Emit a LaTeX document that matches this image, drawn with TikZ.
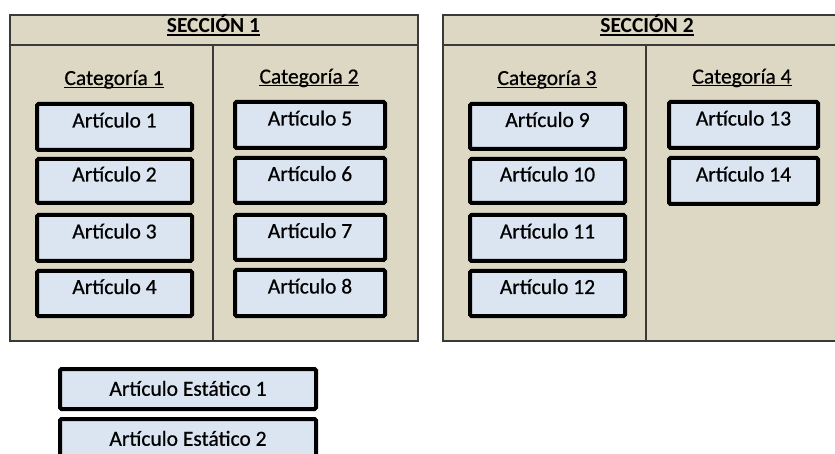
\documentclass[tikz,border=0pt]{standalone}
\usepackage{fontspec}
\setmainfont{Carlito}
\newfontfamily\heavyfont{Carlito}[FakeBold=0.6]
\definecolor{sectan}{HTML}{DDD8C3}
\definecolor{itemblue}{HTML}{DBE5F1}
\definecolor{framegray}{HTML}{3A3A3A}
\newcommand\ulin[2]{\setbox0\hbox{#2}\rlap{\rule[-2.6pt]{\wd0}{#1}}\box0}
\begin{document}
\begin{tikzpicture}[x=1pt,y=-1pt,
  secframe/.style={draw=framegray,line width=1.5pt},
  headtxt/.style={anchor=base,inner sep=0pt,font=\fontsize{21.5}{25}\selectfont\bfseries},
  cattxt/.style={anchor=base,inner sep=0pt,font=\fontsize{21.5}{25}\selectfont\heavyfont},
  itembox/.style={draw=black,line width=4pt,fill=itemblue,rounded corners=1.5pt,
    inner sep=0pt,text height=12pt,text depth=11pt,font=\fontsize{21.5}{25}\selectfont\heavyfont},
  staticbox/.style={draw=black,line width=4pt,fill=itemblue,rounded corners=1.5pt,
    inner sep=0pt,text height=13.5pt,text depth=0pt,minimum width=256pt,minimum height=40pt,
    font=\fontsize{21.5}{25}\selectfont\heavyfont}]
\useasboundingbox (0,0) rectangle (835,454);
\clip (0,0) rectangle (835,454);
\fill[white] (0,0) rectangle (835,454);
% Section 1
\fill[sectan] (10,15) rectangle (418,341);
\draw[secframe] (10,15) rectangle (418,341);
\draw[secframe] (10,45) -- (418,45);
\draw[secframe] (213,45) -- (213,341);
% Section 2
\fill[sectan] (443,15) rectangle (852,341);
\draw[secframe] (443,15) rectangle (852,341);
\draw[secframe] (443,45) -- (852,45);
\draw[secframe] (646,45) -- (646,341);
% headers
\node[headtxt] (s1) at (213.5,33) {\ulin{1.2pt}{SECCIÓN 1}};
\node[headtxt] (s2) at (647,33) {\ulin{1.2pt}{SECCIÓN 2}};
\node[cattxt] (c1) at (114,85) {\ulin{1pt}{Categoría 1}};
\node[cattxt] (c2) at (309,83.5) {\ulin{1pt}{Categoría 2}};
\node[cattxt] (c3) at (547,85) {\ulin{1pt}{Categoría 3}};
\node[cattxt] (c4) at (742,83.5) {\ulin{1pt}{Categoría 4}};
% column 1
\node[itembox,minimum width=155pt,minimum height=46pt] (a1) at (114.5,127) {Artículo 1};
\node[itembox,minimum width=155pt,minimum height=44pt] (a2) at (114.5,181) {Artículo 2};
\node[itembox,minimum width=155pt,minimum height=46pt] (a3) at (114.5,238) {Artículo 3};
\node[itembox,minimum width=155pt,minimum height=45pt] (a4) at (114.5,293.5) {Artículo 4};
% column 2
\node[itembox,minimum width=150pt,minimum height=46pt] (a5) at (310,125) {Artículo 5};
\node[itembox,minimum width=150pt,minimum height=45pt] (a6) at (310,180.5) {Artículo 6};
\node[itembox,minimum width=150pt,minimum height=45pt] (a7) at (310,237.5) {Artículo 7};
\node[itembox,minimum width=150pt,minimum height=46pt] (a8) at (310,293) {Artículo 8};
% column 3
\node[itembox,minimum width=155pt,minimum height=45pt] (a9) at (547.5,126.5) {Artículo 9};
\node[itembox,minimum width=155pt,minimum height=44pt] (a10) at (547.5,181) {Artículo 10};
\node[itembox,minimum width=155pt,minimum height=46pt] (a11) at (547.5,238) {Artículo 11};
\node[itembox,minimum width=155pt,minimum height=45pt] (a12) at (547.5,293.5) {Artículo 12};
% column 4
\node[itembox,minimum width=149pt,minimum height=46pt] (a13) at (743.5,125) {Artículo 13};
\node[itembox,minimum width=149pt,minimum height=46pt] (a14) at (743.5,181) {Artículo 14};
% static
\node[staticbox] (e1) at (188,389) {Artículo Estático 1};
\node[staticbox] (e2) at (188,439) {Artículo Estático 2};
\end{tikzpicture}
\end{document}
